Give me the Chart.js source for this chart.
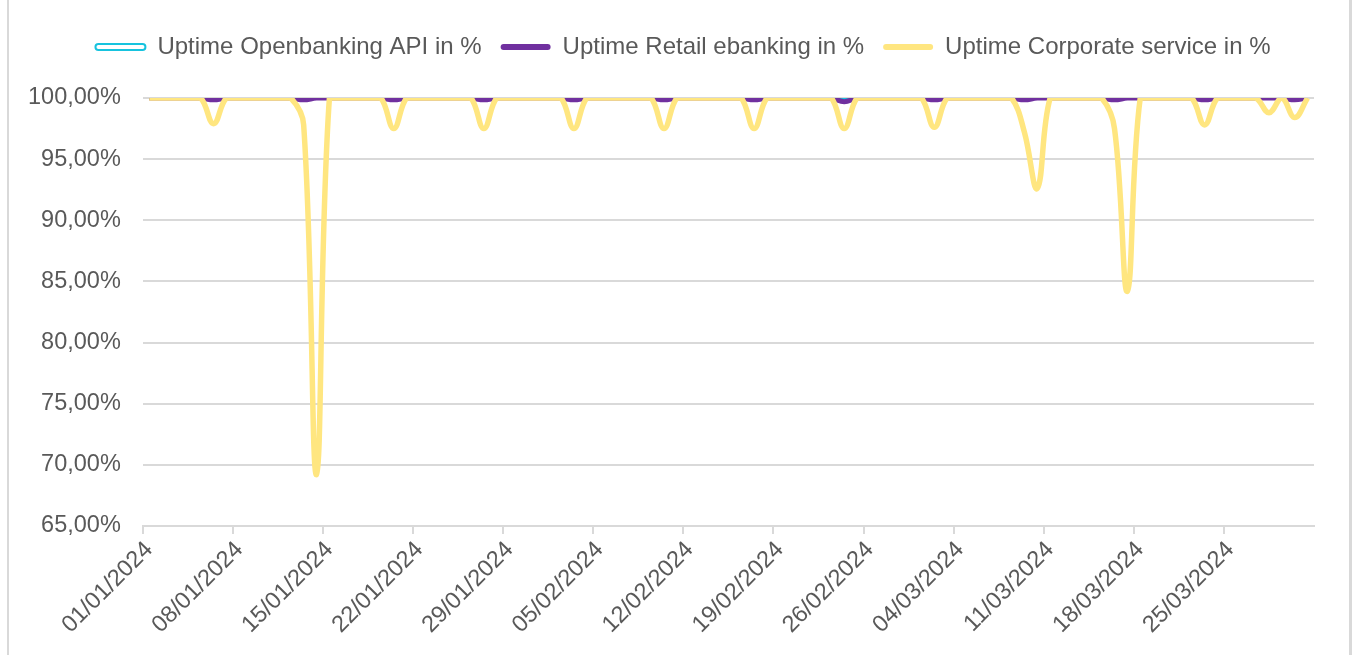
<!DOCTYPE html>
<html>
<head>
<meta charset="utf-8">
<script src="https://cdn.jsdelivr.net/npm/chart.js@4.4.1/dist/chart.umd.min.js"></script>
<style>
  html, body { margin:0; padding:0; background:#fff; overflow:hidden; }
  #wrap { position:absolute; left:0; top:0; width:1356px; height:655px; }
  #frame { position:absolute; left:7px; top:-10px; width:1340px; height:680px;
           border-left:2px solid #d9d9d9; border-right:3px solid #d9d9d9; pointer-events:none; }
</style>
</head>
<body>
<div id="wrap"><canvas id="chart" width="1356" height="655"></canvas></div>
<div id="frame"></div>
<script>
const dates = [
  '01/01/2024','02/01/2024','03/01/2024','04/01/2024','05/01/2024','06/01/2024','07/01/2024',
  '08/01/2024','09/01/2024','10/01/2024','11/01/2024','12/01/2024','13/01/2024','14/01/2024',
  '15/01/2024','16/01/2024','17/01/2024','18/01/2024','19/01/2024','20/01/2024','21/01/2024',
  '22/01/2024','23/01/2024','24/01/2024','25/01/2024','26/01/2024','27/01/2024','28/01/2024',
  '29/01/2024','30/01/2024','31/01/2024','01/02/2024','02/02/2024','03/02/2024','04/02/2024',
  '05/02/2024','06/02/2024','07/02/2024','08/02/2024','09/02/2024','10/02/2024','11/02/2024',
  '12/02/2024','13/02/2024','14/02/2024','15/02/2024','16/02/2024','17/02/2024','18/02/2024',
  '19/02/2024','20/02/2024','21/02/2024','22/02/2024','23/02/2024','24/02/2024','25/02/2024',
  '26/02/2024','27/02/2024','28/02/2024','29/02/2024','01/03/2024','02/03/2024','03/03/2024',
  '04/03/2024','05/03/2024','06/03/2024','07/03/2024','08/03/2024','09/03/2024','10/03/2024',
  '11/03/2024','12/03/2024','13/03/2024','14/03/2024','15/03/2024','16/03/2024','17/03/2024',
  '18/03/2024','19/03/2024','20/03/2024','21/03/2024','22/03/2024','23/03/2024','24/03/2024',
  '25/03/2024','26/03/2024','27/03/2024','28/03/2024','29/03/2024','30/03/2024','31/03/2024'
];

// one row per week (7 days)
const openbanking = [
  100,100,100,100,100,100,100,
  100,100,100,100,100,100,100,
  100,100,100,100,100,100,100,
  100,100,100,100,100,100,100,
  100,100,100,100,100,100,100,
  100,100,100,100,100,100,100,
  100,100,100,100,100,99.85,100,
  100,100,100,100,100,99.85,100,
  100,100,100,100,100,100,100,
  100,100,100,100,100,100,100,
  100,100,100,100,100,100,100,
  100,100,100,100,100,100,100,
  100,100,100,100,100,100,100
];

const retail = [
  100,100,100,100,100,99.85,100,
  100,100,100,100,100,99.85,100,
  100,100,100,100,100,99.85,100,
  100,100,100,100,100,99.85,100,
  100,100,100,100,100,99.85,100,
  100,100,100,100,100,99.85,100,
  100,100,100,100,100,99.85,100,
  100,100,100,100,100,99.7,100,
  100,100,100,100,100,99.85,100,
  100,100,100,100,100,99.85,100,
  100,100,100,100,100,99.85,100,
  100,100,100,100,100,99.85,100,
  100,100,100,100,100,99.85,100
];

const corporate = [
  100,100,100,100,100,97.9,100,
  100,100,100,100,100,97.8,69.2,
  100,100,100,100,100,97.5,100,
  100,100,100,100,100,97.5,100,
  100,100,100,100,100,97.5,100,
  100,100,100,100,100,97.5,100,
  100,100,100,100,100,97.5,100,
  100,100,100,100,100,97.5,100,
  100,100,100,100,100,97.6,100,
  100,100,100,100,100,97.2,92.6,
  100,100,100,100,100,97.5,84.2,
  100,100,100,100,100,97.8,100,
  100,100,100,98.8,100,98.4,100
];

const seriesNames = ['Uptime Openbanking API in %', 'Uptime Retail ebanking in %', 'Uptime Corporate service in %'];
const colors = ['#17c3de', '#70309f', '#ffe680'];
const legendFill = ['#ffffff', '#70309f', '#ffe680'];
const legendStroke = [2, 0, 0];

const yTicks = [65, 70, 75, 80, 85, 90, 95, 100];

const textColor = '#595959';
const gridColor = '#d9d9d9';
Chart.defaults.font.family = '"Liberation Sans", Arial, sans-serif';
Chart.defaults.font.size = 23.5;
Chart.defaults.color = textColor;

// extra room between legend and plot, and legend centred a bit more to the right
const legendGap = {
  id: 'legendGap',
  beforeInit(chart) {
    const fit = chart.legend.fit;
    chart.legend.fit = function() {
      fit.call(this);
      this.height += 29;
    };
  },
  afterLayout(chart) {
    chart.legend.left += 23;
    chart.legend.right += 23;
  }
};

const ctx = document.getElementById('chart').getContext('2d');
new Chart(ctx, {
  type: 'line',
  data: {
    labels: dates,
    datasets: [
      {label: seriesNames[0], data: openbanking, borderColor: colors[0], backgroundColor: colors[0], borderWidth: 4, order: 3},
      {label: seriesNames[1], data: retail, borderColor: colors[1], backgroundColor: colors[1], borderWidth: 5, order: 2},
      {label: seriesNames[2], data: corporate, borderColor: colors[2], backgroundColor: colors[2], borderWidth: 5.5, order: 1}
    ]
  },
  options: {
    responsive: false,
    animation: false,
    tension: 0.4,
    pointRadius: 0,
    pointHoverRadius: 0,
    layout: {padding: {left: 6, right: 42, top: 16, bottom: 14}},
    plugins: {
      tooltip: {enabled: false},
      legend: {
        position: 'top',
        labels: {
          boxWidth: 50,
          boxHeight: 6,
          padding: 19,
          color: textColor,
          font: {size: 24},
          sort: (a, b) => a.datasetIndex - b.datasetIndex,
          generateLabels: chart => Chart.defaults.plugins.legend.labels.generateLabels(chart).map(l => {
            l.fillStyle = legendFill[l.datasetIndex];
            l.strokeStyle = colors[l.datasetIndex];
            l.lineWidth = legendStroke[l.datasetIndex];
            l.borderRadius = 3;
            return l;
          })
        }
      }
    },
    scales: {
      x: {
        type: 'category',
        offset: true,
        grid: {
          offset: true,
          drawOnChartArea: false,
          drawTicks: true,
          tickLength: 8,
          lineWidth: 2,
          color: c => (c.index % 7 === 0 ? gridColor : 'rgba(0,0,0,0)')
        },
        border: {display: true, color: gridColor, width: 2},
        ticks: {
          autoSkip: false,
          minRotation: 45,
          maxRotation: 45,
          padding: 2,
          color: textColor,
          callback: function(v, i) { return i % 7 === 0 ? dates[i] : ''; }
        }
      },
      y: {
        min: 65,
        max: 100,
        afterBuildTicks: axis => { axis.ticks = yTicks.map(v => ({value: v})); },
        grid: {color: gridColor, lineWidth: 2, drawTicks: false},
        border: {display: false},
        ticks: {
          padding: 22,
          color: textColor,
          callback: v => v.toFixed(2).replace('.', ',') + '%'
        }
      }
    }
  },
  plugins: [legendGap]
});
</script>
</body>
</html>
